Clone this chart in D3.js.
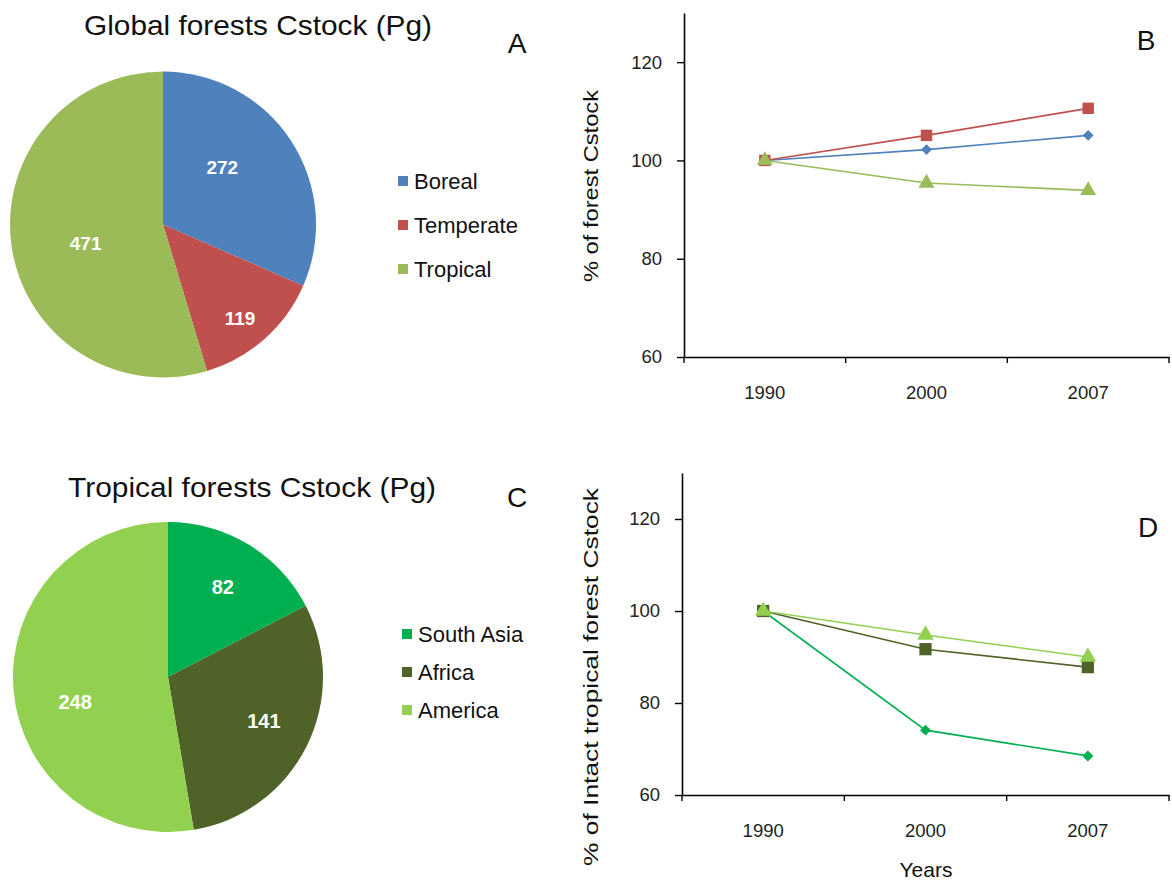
<!DOCTYPE html>
<html><head><meta charset="utf-8">
<script src="https://cdn.jsdelivr.net/npm/d3@7/dist/d3.min.js"></script>
<style>body{margin:0;background:#fff}svg{display:block;font-family:"Liberation Sans",Arial,sans-serif}</style>
</head><body><svg id="c" width="1172" height="883"></svg>
<script>
// ---- data ----
const globalCats = ["Boreal", "Temperate", "Tropical"];
const globalVals = [272, 119, 471];
const globalColors = ["#4F81BD", "#C0504D", "#9BBB59"];

const tropCats = ["South Asia", "Africa", "America"];
const tropVals = [82, 141, 248];
const tropColors = ["#00B050", "#4F6228", "#92D050"];

const years = ["1990", "2000", "2007"];
const yTicks = [60, 80, 100, 120];

const borealPct = [100, 102.2, 105.1];
const temperatePct = [100, 105.1, 110.6];
const tropicalPct = [100, 95.4, 93.9];

const southAsiaPct = [100, 74.1, 68.5];
const africaPct = [100, 91.7, 87.8];
const americaPct = [100, 94.8, 90.0];

const svg = d3.select("#c");
const rad = Math.PI / 180;

// ---- pie helper ----
function drawPie(opt) {
  const g = svg.append("g").attr("transform", `translate(${opt.cx},${opt.cy})`);
  const pie = d3.pie().sort(null).value(d => d)(opt.vals);
  const arc = d3.arc().innerRadius(0).outerRadius(opt.r);
  g.selectAll("path.s").data(pie).join("path").attr("class","s")
    .attr("d", arc).attr("fill", (d, i) => opt.colors[i]);
  g.selectAll("text.v").data(pie).join("text").attr("class","v")
    .attr("transform", (d, i) => {
      const a = (d.startAngle + d.endAngle) / 2 + opt.labelShift[i] * rad;
      const rr = opt.r * opt.labelR[i];
      return `translate(${rr * Math.sin(a)},${-rr * Math.cos(a)})`;
    })
    .attr("text-anchor", "middle").attr("dy", "0.36em")
    .attr("fill", "#fff").attr("font-weight", "bold")
    .attr("font-family", opt.labelFont)
    .attr("font-size", opt.labelSize)
    .text(d => d.data);
  const lg = svg.append("g").attr("transform", `translate(${opt.lx},${opt.ly})`);
  opt.cats.forEach((c, i) => {
    const row = lg.append("g").attr("transform", `translate(0,${i * opt.lstep})`);
    row.append("rect").attr("x", 0).attr("y", -5).attr("width", 10).attr("height", 10).attr("fill", opt.colors[i]);
    row.append("text").attr("x", 16).attr("dy", "0.36em").attr("font-size", 22).attr("fill", "#111").text(c);
  });
  svg.append("text").attr("x", opt.tx).attr("y", opt.ty).attr("text-anchor", "middle")
    .attr("font-size", 28).attr("fill", "#111")
    .attr("textLength", opt.tlen).attr("lengthAdjust", "spacingAndGlyphs").text(opt.title);
}

drawPie({cx: 163, cy: 224.5, r: 153, vals: globalVals, colors: globalColors, cats: globalCats,
  labelR: [0.54, 0.79, 0.52], labelShift: [-11, 2, -5],
  labelFont: '"Liberation Sans",Arial,sans-serif', labelSize: 19,
  lx: 398, ly: 181, lstep: 44, title: "Global forests Cstock (Pg)", tx: 258, ty: 35, tlen: 348});
drawPie({cx: 168, cy: 677, r: 155, vals: tropVals, colors: tropColors, cats: tropCats,
  labelR: [0.68, 0.68, 0.62], labelShift: [0, -2, -10],
  labelFont: '"Liberation Sans Narrow","Liberation Sans",sans-serif', labelSize: 20,
  lx: 402, ly: 634, lstep: 38, title: "Tropical forests Cstock (Pg)", tx: 252, ty: 497, tlen: 368});

[["A", 517, 53], ["B", 1146, 50], ["C", 517, 507], ["D", 1148, 537]].forEach(([t, x, y]) =>
  svg.append("text").attr("x", x).attr("y", y).attr("text-anchor", "middle").attr("font-size", 28).attr("fill", "#111").text(t));

// ---- line chart helper ----
function drawLine(opt) {
  const x = d3.scaleBand().domain(years).range([opt.x0, opt.x1]).padding(0);
  const y = d3.scaleLinear().domain([60, 130]).range([opt.y0, opt.y1]);
  const g = svg.append("g");
  const ya = g.append("g").attr("transform", `translate(${opt.x0},0)`)
    .call(d3.axisLeft(y).tickValues(yTicks).tickSize(7).tickPadding(15).tickSizeOuter(0));
  ya.select(".domain").attr("stroke", "#000").attr("stroke-width", 1.6);
  ya.selectAll(".tick line").attr("stroke", "#000").attr("stroke-width", 1.4);
  ya.selectAll("text").attr("font-size", 18.5).attr("fill", "#222");
  const xa = g.append("g").attr("transform", `translate(0,${opt.y0})`)
    .call(d3.axisBottom(x).tickSize(0).tickPadding(29));
  xa.select(".domain").attr("stroke", "#000").attr("stroke-width", 1.6);
  xa.selectAll("text").attr("font-size", 18.5).attr("fill", "#222");
  const bounds = years.map(d => x(d)).concat([x(years[years.length - 1]) + x.bandwidth()]);
  g.selectAll("line.bt").data(bounds).join("line").attr("class","bt")
    .attr("x1", d => d).attr("x2", d => d).attr("y1", opt.y0).attr("y2", opt.y0 + 6)
    .attr("stroke", "#000").attr("stroke-width", 1.4);
  svg.append("text").attr("transform", `translate(${opt.lblx},${opt.lbly}) rotate(-90)`)
    .attr("text-anchor", "middle").attr("font-size", 20).attr("fill", "#111")
    .attr("textLength", opt.lbllen).attr("lengthAdjust", "spacingAndGlyphs").text(opt.ylabel);
  const cx = d => x(d) + x.bandwidth() / 2;
  const line = d3.line().x((d, i) => cx(years[i])).y(d => y(d));
  opt.series.forEach(s => {
    g.append("path").attr("d", line(s.vals)).attr("fill", "none").attr("stroke", s.color).attr("stroke-width", 1.6);
    const isDia = s.sym === "diamond";
    const sym = d3.symbol().type(s.sym === "triangle" ? d3.symbolTriangle : d3.symbolSquare).size(s.size);
    g.selectAll(null).data(s.vals).join("path")
      .attr("transform", (d, i) => `translate(${cx(years[i])},${y(d)})${isDia ? " rotate(45)" : ""}`)
      .attr("d", sym).attr("fill", s.color);
  });
}

drawLine({x0: 684, x1: 1169, y0: 357, y1: 13, lblx: 598, lbly: 186, lbllen: 192,
  ylabel: "% of forest Cstock",
  series: [
    {vals: borealPct, color: "#4F81BD", sym: "diamond", size: 58},
    {vals: temperatePct, color: "#C0504D", sym: "square", size: 130},
    {vals: tropicalPct, color: "#9BBB59", sym: "triangle", size: 110}
  ]});
drawLine({x0: 682, x1: 1169, y0: 795, y1: 473, lblx: 598, lbly: 677, lbllen: 378,
  ylabel: "% of Intact tropical forest Cstock",
  series: [
    {vals: southAsiaPct, color: "#00B050", sym: "diamond", size: 60},
    {vals: africaPct, color: "#4F6228", sym: "square", size: 150},
    {vals: americaPct, color: "#92D050", sym: "triangle", size: 120}
  ]});

svg.append("text").attr("x", 926).attr("y", 877).attr("text-anchor", "middle").attr("font-size", 21).attr("fill", "#111").text("Years");
</script></body></html>
